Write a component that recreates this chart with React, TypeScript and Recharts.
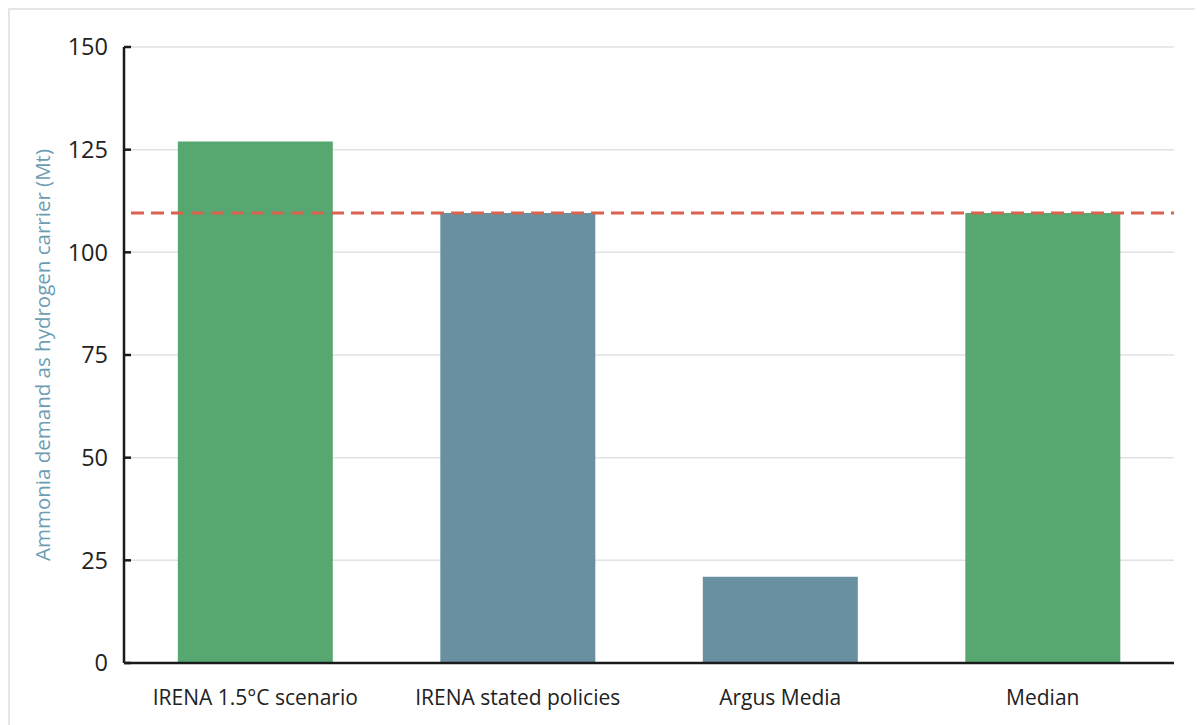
import { BarChart, Bar, Cell, XAxis, YAxis, CartesianGrid, ReferenceLine } from "recharts"

const categories = ["IRENA 1.5°C scenario", "IRENA stated policies", "Argus Media", "Median"]
const demand = [127, 109.6, 21, 109.6]
const barColors = ["#56a870", "#6890a1", "#6890a1", "#56a870"]
const yTicks = [0, 25, 50, 75, 100, 125, 150]
const medianValue = 109.6

const data = categories.map((name, i) => ({ name, value: demand[i] }))

const font = "'Open Sans', 'DejaVu Sans', sans-serif"

export default function App() {
  return (
    <div
      style={{
        width: 1195,
        height: 717,
        boxSizing: "border-box",
        borderTop: "2px solid #e4e7e8",
        borderLeft: "2px solid #e4e7e8",
        background: "#fff",
        fontFamily: font,
      }}
    >
      <BarChart
        width={1190}
        height={712}
        data={data}
        margin={{ top: 37, right: 26, bottom: 19, left: 64 }}
        barCategoryGap="20.5%"
      >
        <CartesianGrid vertical={false} stroke="#e2e2e2" strokeWidth={1.5} />
        <XAxis
          dataKey="name"
          tickLine={false}
          axisLine={{ stroke: "#1a1a1a", strokeWidth: 2.5 }}
          tick={{ fill: "#222", fontSize: 21, fontFamily: font }}
          tickMargin={21}
          height={40}
        />
        <YAxis
          domain={[0, 150]}
          ticks={yTicks}
          width={50}
          axisLine={{ stroke: "#1a1a1a", strokeWidth: 2.5 }}
          tickLine={{ stroke: "#1a1a1a", strokeWidth: 2.5 }}
          tickSize={-7}
          tickMargin={23}
          tick={{ fill: "#222", fontSize: 23.5, fontFamily: font }}
          label={{
            value: "Ammonia demand as hydrogen carrier (Mt)",
            angle: -90,
            position: "left",
            offset: 31,
            style: { textAnchor: "middle", fill: "#6c9db3", fontSize: 20.5, fontFamily: font },
          }}
        />
        <Bar dataKey="value" isAnimationActive={false}>
          {data.map((entry, index) => (
            <Cell key={`cell-${index}`} fill={barColors[index]} />
          ))}
        </Bar>
        <ReferenceLine
          y={medianValue}
          stroke="#d9634f"
          strokeWidth={3}
          strokeDasharray="13 7"
          strokeDashoffset={-7}
        />
      </BarChart>
    </div>
  )
}
